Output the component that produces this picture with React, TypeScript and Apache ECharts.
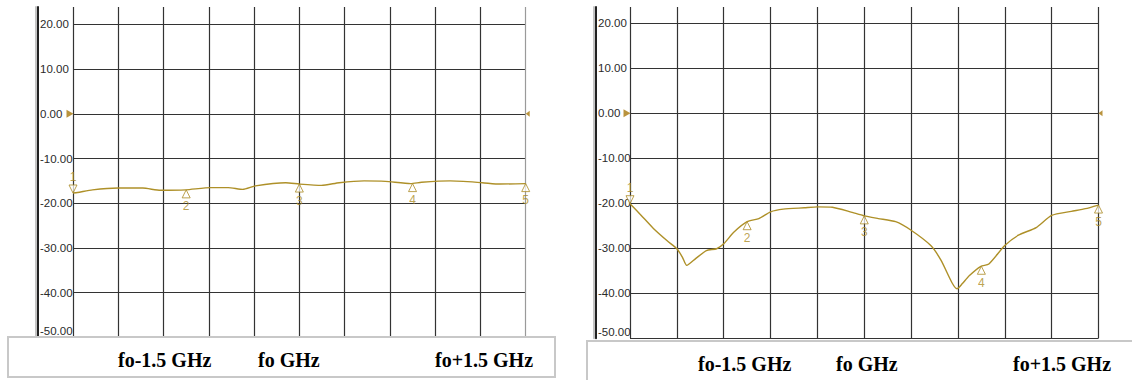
import React, { useEffect, useRef } from "react";
import * as echarts from "echarts";

// Left panel trace (x in grid divisions 0..10, y in dB)
const leftX = [0, 0.1, 0.43, 1.0, 1.54, 1.93, 2.49, 3.04, 3.43, 3.75, 4.03, 4.7, 5.0, 5.49, 5.88, 6.43, 6.9, 7.46, 7.7, 8.33, 9.04, 9.43, 10];
const leftY = [-17.7, -17.6, -17.0, -16.6, -16.6, -17.1, -17.0, -16.5, -16.5, -16.9, -16.1, -15.4, -15.7, -16.0, -15.4, -15.0, -15.1, -15.6, -15.3, -15.0, -15.4, -15.7, -15.6];

// Right panel trace
const rightX = [0, 0.24, 0.5, 0.8, 1.0, 1.12, 1.21, 1.4, 1.63, 1.85, 2.0, 2.22, 2.5, 2.75, 3.0, 3.27, 3.72, 4.0, 4.32, 4.7, 5.0, 5.3, 5.67, 6.0, 6.42, 6.64, 6.87, 6.98, 7.09, 7.24, 7.49, 7.66, 8.0, 8.29, 8.67, 9.0, 9.42, 9.72, 10];
const rightY = [-20.1, -22.7, -25.6, -28.4, -30.1, -32.0, -33.8, -32.3, -30.5, -30.1, -29.0, -26.4, -24.1, -23.4, -21.9, -21.3, -21.0, -20.8, -20.9, -21.9, -22.8, -23.4, -24.1, -26.0, -29.4, -32.7, -37.6, -39.0, -37.9, -36.1, -34.0, -33.5, -29.4, -27.1, -25.4, -22.7, -21.8, -21.2, -20.4];

// Markers
const markerNames = ["1", "2", "3", "4", "5"];
const markerX = [0, 2.5, 5, 7.5, 10];
const leftMarkerY = [-17.7, -17.0, -15.7, -15.6, -15.6];
const rightMarkerY = [-20.1, -24.1, -22.8, -34.0, -20.4];

// Reference level
const refLevel = 0;

// Bottom box labels
const bottomLabels = ["fo-1.5 GHz", "fo GHz", "fo+1.5 GHz"];

const TRACE = "#ae9028";
const MARK = "#ab8b25";
const GRIDC = "#333333";

function mkX(gi: number, colors: string[]) {
  return {
    type: "value", gridIndex: gi, min: 0, max: 10, interval: 1,
    axisLine: { show: false }, axisTick: { show: false }, axisLabel: { show: false },
    splitLine: { show: true, lineStyle: { color: colors, width: 1.2 } },
  };
}
function mkY(gi: number, max: number, offset: number) {
  return {
    type: "value", gridIndex: gi, min: -50, max, interval: 10, position: "left", offset,
    axisLine: { show: true, onZero: false, lineStyle: { color: "#222", width: 2 } },
    axisTick: { show: false },
    axisLabel: {
      align: "left", margin: -2, showMaxLabel: false,
      verticalAlignMinLabel: "bottom",
      formatter: (v: number) => v.toFixed(2),
      color: "#2a2a2a", fontSize: 11.5, fontFamily: "'Liberation Sans Narrow', 'Liberation Sans', Arial, sans-serif",
    },
    splitLine: { show: true, showMaxLine: false, lineStyle: { color: GRIDC, width: 1.2 } },
  };
}
function mkShadow(gi: number, max: number, offset: number) {
  return {
    type: "value", gridIndex: gi, min: -50, max, interval: 10, position: "left", offset,
    axisLine: { show: true, onZero: false, lineStyle: { color: "#c4c4c4", width: 2 } },
    axisTick: { show: false }, axisLabel: { show: false }, splitLine: { show: false },
  };
}

function markerSeries(gi: number, yi: number, ys: number[]) {
  const base = { type: "scatter", xAxisIndex: gi, yAxisIndex: yi, z: 4, clip: false };
  const lbl = { show: true, color: MARK, fontSize: 12, fontFamily: "'Liberation Sans', Arial, sans-serif", formatter: (p: any) => p.name };
  return [
    {
      ...base,
      data: [{ name: markerNames[0], value: [markerX[0], ys[0]] }],
      symbol: "triangle", symbolRotate: 180, symbolSize: [8, 8], symbolOffset: [0, -4],
      itemStyle: { color: "rgba(255,255,255,0.9)", borderColor: MARK, borderWidth: 1 },
      label: { ...lbl, position: "top", distance: 1 },
    },
    {
      ...base,
      data: markerNames.slice(1).map((n, i) => ({ name: n, value: [markerX[i + 1], ys[i + 1]] })),
      symbol: "triangle", symbolSize: [8, 8], symbolOffset: [0, 4],
      itemStyle: { color: "rgba(255,255,255,0.9)", borderColor: MARK, borderWidth: 1 },
      label: { ...lbl, position: "bottom", distance: 2 },
    },
    {
      ...base,
      data: [[markerX[0], refLevel]],
      symbol: "triangle", symbolRotate: -90, symbolSize: [8, 7], symbolOffset: [-3, 0],
      itemStyle: { color: "#a8780c" },
    },
    {
      ...base,
      data: [[markerX[4], refLevel]],
      symbol: "triangle", symbolRotate: 90, symbolSize: [6, 4], symbolOffset: [2, 0],
      itemStyle: { color: "#a8780c" },
    },
  ];
}

export default function App() {
  const ref = useRef<HTMLDivElement>(null);
  useEffect(() => {
    if (!ref.current) return;
    const chart = echarts.init(ref.current, null, { renderer: "svg" });
    const leftColors = ["#333", "#333", "#333", "#333", "#333", "#333", "#333", "#333", "#333", "#333", "#9a9a9a"];
    const rightColors = new Array(11).fill("#333");
    const textStyle = (t: string, x: number, y: number) => ({
      type: "text", x, y, z: 101,
      style: { text: t, fontSize: 20, fontWeight: "bold", fontFamily: "'Liberation Serif', 'Times New Roman', serif", fill: "#000", verticalAlign: "middle", align: "left" },
    });
    const option: any = {
      animation: false,
      backgroundColor: "#fff",
      grid: [
        { left: 73, right: 606.3, top: 7, bottom: 42.6 },
        { left: 630, right: 33.5, top: 7, bottom: 41.7 },
      ],
      xAxis: [mkX(0, leftColors), mkX(1, rightColors)],
      yAxis: [mkY(0, 23.9, 35), mkShadow(0, 23.9, 37.5), mkY(1, 23.6, 34), mkShadow(1, 23.6, 36.5)],
      series: [
        {
          type: "line", xAxisIndex: 0, yAxisIndex: 0, z: 3, showSymbol: false, smooth: 0.2,
          data: leftX.map((x, i) => [x, leftY[i]]),
          lineStyle: { color: TRACE, width: 1.4 },
        },
        {
          type: "line", xAxisIndex: 1, yAxisIndex: 2, z: 3, showSymbol: false, smooth: 0.2,
          data: rightX.map((x, i) => [x, rightY[i]]),
          lineStyle: { color: TRACE, width: 1.4 },
        },
        ...markerSeries(0, 0, leftMarkerY),
        ...markerSeries(1, 2, rightMarkerY),
      ],
      graphic: [
        { type: "rect", z: 100, shape: { x: 8, y: 337, width: 547, height: 40 }, style: { fill: "#fff", stroke: "#c8c8c8", lineWidth: 2 } },
        { type: "rect", z: 100, shape: { x: 587, y: 341, width: 560, height: 40 }, style: { fill: "#fff", stroke: "#c8c8c8", lineWidth: 2 } },
        textStyle(bottomLabels[0], 118, 360),
        textStyle(bottomLabels[1], 258, 360),
        textStyle(bottomLabels[2], 435, 360),
        textStyle(bottomLabels[0], 698, 364),
        textStyle(bottomLabels[1], 836, 364),
        textStyle(bottomLabels[2], 1013, 364),
      ],
    };
    chart.setOption(option);
    return () => chart.dispose();
  }, []);
  return <div ref={ref} style={{ position: "fixed", left: 0, top: 0, width: 1132, height: 380 }} />;
}
